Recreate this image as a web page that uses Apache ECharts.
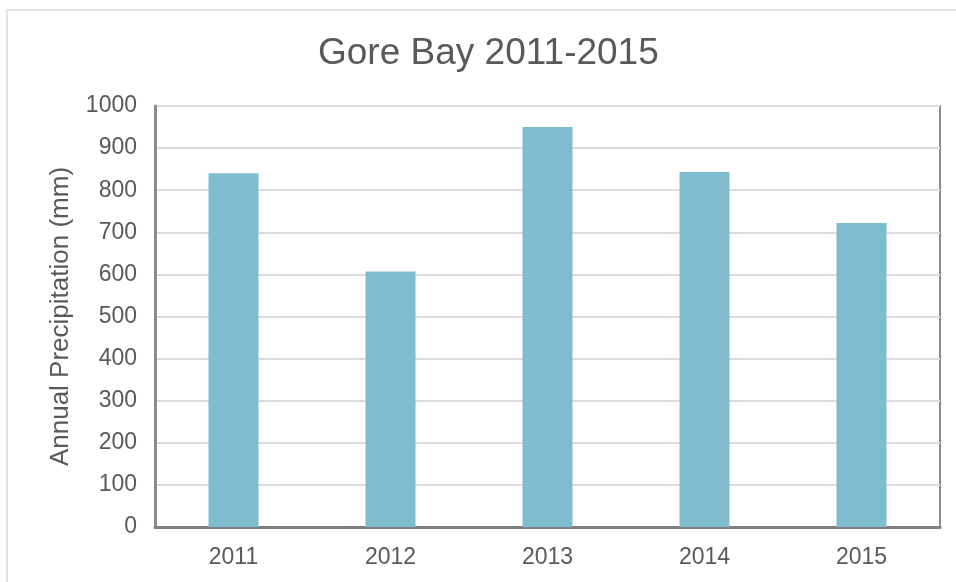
<!DOCTYPE html>
<html>
<head>
<meta charset="utf-8">
<script src="https://cdn.jsdelivr.net/npm/echarts@6/dist/echarts.min.js"></script>
<style>
  html, body { margin: 0; padding: 0; background: #fff; }
  #main { width: 956px; height: 582px; }
</style>
</head>
<body>
<div id="main"></div>
<script>
// 数据
const years = ['2011', '2012', '2013', '2014', '2015']
const precipitation = [840, 607, 950, 843, 722]
const yTicks = { min: 0, max: 1000, interval: 100 }

const chart = echarts.init(document.getElementById('main'))
const textColor = '#595959'
const font = 'Liberation Sans, Arial, sans-serif'

chart.setOption({
  backgroundColor: '#fff',
  animation: false,
  textStyle: { fontFamily: font },
  graphic: [
    {
      type: 'rect',
      shape: { x: 7, y: 10, width: 1000, height: 700 },
      style: { fill: 'none', stroke: '#e2e2e2', lineWidth: 2 },
      silent: true,
    },
  ],
  title: {
    text: 'Gore Bay 2011-2015',
    left: 313,
    top: 30,
    textStyle: { fontSize: 37, fontWeight: 'normal', color: textColor, fontFamily: font },
  },
  grid: {
    left: 155, top: 106, right: 16, bottom: 55,
    show: true, borderColor: '#8c8c8c', borderWidth: 2,
  },
  xAxis: {
    type: 'category',
    data: years,
    axisLine: { lineStyle: { color: '#808080', width: 3 } },
    axisTick: { show: false },
    axisLabel: { color: textColor, fontSize: 23, margin: 19, fontFamily: font },
  },
  yAxis: {
    type: 'value',
    min: yTicks.min, max: yTicks.max, interval: yTicks.interval,
    name: 'Annual Precipitation (mm)',
    nameLocation: 'middle',
    nameGap: 81,
    nameTextStyle: { color: textColor, fontSize: 26, fontFamily: font },
    axisLine: { show: true, lineStyle: { color: '#8c8c8c', width: 3 } },
    axisTick: { show: false },
    axisLabel: {
      color: textColor, fontSize: 23, margin: 18, fontFamily: font,
      formatter: (v) => String(v),
    },
    splitLine: { lineStyle: { color: '#dcdcdc', width: 2 } },
  },
  series: [
    {
      type: 'bar',
      data: precipitation,
      barWidth: 50,
      itemStyle: { color: '#7fbccf' },
    },
  ],
})
</script>
</body>
</html>
